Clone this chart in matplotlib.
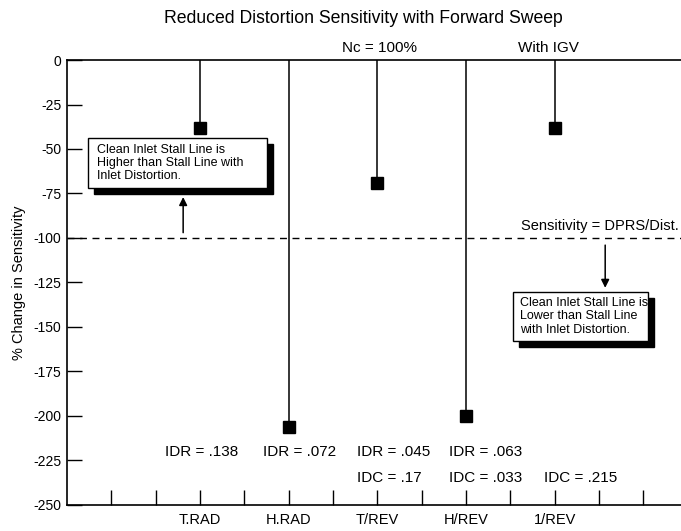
import matplotlib
matplotlib.use('Agg')
import matplotlib.pyplot as plt
from matplotlib.patches import Rectangle

plt.rcParams['font.family'] = ['Liberation Sans', 'DejaVu Sans']

# 各畸变类型及其敏感度变化
categories = ['T.RAD', 'H.RAD', 'T/REV', 'H/REV', '1/REV']
cat_pos = [3, 5, 7, 9, 11]
sensitivity = [-38, -206, -69, -200, -38]
idr = ['IDR = .138', 'IDR = .072', 'IDR = .045', 'IDR = .063', '']
idc = ['', '', 'IDC = .17', 'IDC = .033', 'IDC = .215']
idr_x = [2.21, 4.42, 6.55, 8.62, 0]
idc_x = [0, 0, 6.55, 8.62, 10.77]
ref_line = -100

fig = plt.figure(figsize=(6.81, 5.31), dpi=100)
ax = fig.add_axes([0.0984, 0.049, 0.9016, 0.838])

ax.set_xlim(0, 13.85)
ax.set_ylim(-250, 0)

# 竖线 + 方块标记
ax.vlines(cat_pos, sensitivity, 0, color='black', lw=1.1, zorder=3)
ax.plot(cat_pos, sensitivity, linestyle='', marker='s', ms=8.5, color='black', zorder=4)

# 参考线
ax.axhline(ref_line, color='black', lw=1.0, linestyle=(0, (5, 4)))

ax.spines['right'].set_visible(False)
for s in ['left', 'bottom', 'top']:
    ax.spines[s].set_linewidth(1.2)

ax.set_yticks(range(0, -251, -25))
ax.set_yticklabels([str(v) for v in range(0, -251, -25)], fontsize=10)
ax.tick_params(axis='y', direction='in', length=11, width=1.0, pad=4)

ax.set_xticks(cat_pos)
ax.set_xticklabels(categories, fontsize=10.5)
ax.set_xticks([k for k in range(1, 14) if k not in cat_pos], minor=True)
ax.tick_params(axis='x', which='both', direction='in', length=11, width=1.0, pad=5.5)

ax.set_ylabel('% Change in Sensitivity', fontsize=10.5, labelpad=5)

for x, t in zip(idr_x, idr):
    if t:
        ax.text(x, -220.2, t, fontsize=11, ha='left', va='center')
for x, t in zip(idc_x, idc):
    if t:
        ax.text(x, -235, t, fontsize=11, ha='left', va='center')

ax.text(7.06, 7, 'Nc = 100%', fontsize=11, ha='center', va='center', clip_on=False)
ax.text(10.87, 7, 'With IGV', fontsize=11, ha='center', va='center', clip_on=False)
fig.text(0.533, 0.966, 'Reduced Distortion Sensitivity with Forward Sweep',
         fontsize=12.7, ha='center', va='center')

ax.text(12.03, -93, 'Sensitivity = DPRS/Dist.', fontsize=10.5, ha='center', va='center')


def shadow_box(x0, x1, y0, y1, lines, tx):
    dx, dy = 0.13, 3.4
    ax.add_patch(Rectangle((x0 + dx, y0 - dy), x1 - x0, y1 - y0,
                           fc='black', ec='black', zorder=5))
    ax.add_patch(Rectangle((x0, y0), x1 - x0, y1 - y0,
                           fc='white', ec='black', lw=1.0, zorder=6))
    ax.text(tx, (y0 + y1) / 2, lines, fontsize=9, ha='left', va='center',
            linespacing=1.12, zorder=7)


shadow_box(0.47, 4.51, -71.9, -43.8,
           'Clean Inlet Stall Line is\nHigher than Stall Line with\nInlet Distortion.', 0.68)
shadow_box(10.06, 13.11, -157.9, -130.3,
           'Clean Inlet Stall Line is\nLower than Stall Line\nwith Inlet Distortion.', 10.22)

arrow = dict(arrowstyle='-|>', color='black', lw=1.1, mutation_scale=12,
             shrinkA=0, shrinkB=0)
ax.annotate('', xy=(2.62, -77), xytext=(2.62, -97), arrowprops=arrow)
ax.annotate('', xy=(12.14, -128), xytext=(12.14, -104), arrowprops=arrow)

fig.savefig('out.png', dpi=100)
